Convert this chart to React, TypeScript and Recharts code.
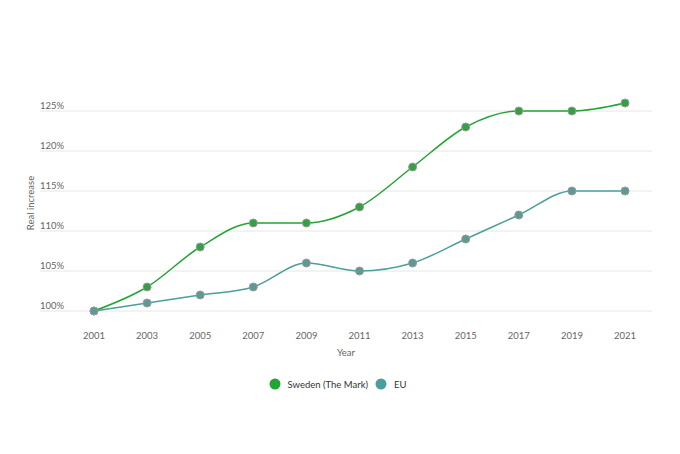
import React from "react";
import {
  LineChart,
  Line,
  XAxis,
  YAxis,
  CartesianGrid,
  Legend,
} from "recharts";

const years = [2001, 2003, 2005, 2007, 2009, 2011, 2013, 2015, 2017, 2019, 2021];
const sweden = [100, 103, 108, 111, 111, 113, 118, 123, 125, 125, 126];
const eu = [100, 101, 102, 103, 106, 105, 106, 109, 112, 115, 115];
const yTicks = [100, 105, 110, 115, 120, 125];
const yDomain = [100, 127];

const SWEDEN_COLOR = "#22a532";
const EU_COLOR = "#4a9f9b";

const data = years.map((year, i) => ({
  year,
  sweden: sweden[i],
  eu: eu[i],
}));

const FONT = "Lato, 'Open Sans', sans-serif";
const FS = 9.5;

const YTick = (props: any) => {
  const { y, payload } = props;
  return (
    <text x={40} y={y - 2} textAnchor="start" fontSize={FS} fill="#666" fontFamily={FONT}>
      {payload.value}%
    </text>
  );
};

const legendItems = [
  { label: "Sweden (The Mark)", color: SWEDEN_COLOR },
  { label: "EU", color: EU_COLOR },
];

const LegendContent = () => (
  <div
    style={{
      display: "flex",
      justifyContent: "center",
      alignItems: "center",
      fontFamily: FONT,
      fontSize: FS,
      color: "#333",
      paddingLeft: 2,
    }}
  >
    {legendItems.map((item) => (
      <div key={item.label} style={{ display: "flex", alignItems: "center", marginRight: 7 }}>
        <svg width={12} height={12} style={{ marginRight: 7 }}>
          <circle cx={6} cy={6} r={5.5} fill={item.color} />
        </svg>
        <span>{item.label}</span>
      </div>
    ))}
  </div>
);

// grid only at the tick values, not at the top edge of the plot
const gridRows = ({ offset }: any) =>
  yTicks.map(
    (t) =>
      offset.top +
      ((yDomain[1] - t) / (yDomain[1] - yDomain[0])) * offset.height
  );

export default function App() {
  return (
    <div style={{ position: "absolute", left: 0, top: 0, background: "#fff" }}>
      <LineChart
        width={680}
        height={454}
        data={data}
        margin={{ top: 95, right: 28, left: 0, bottom: 95 }}
      >
        <CartesianGrid
          horizontal
          vertical={false}
          stroke="#e6e6e6"
          horizontalCoordinatesGenerator={gridRows}
        />
        <XAxis
          dataKey="year"
          type="number"
          domain={[2001, 2021]}
          ticks={years}
          padding={{ left: 54, right: 27 }}
          axisLine={false}
          tickLine={false}
          tickMargin={15}
          height={48}
          tick={{ fontSize: FS, fill: "#666", fontFamily: FONT }}
          label={{
            value: "Year",
            position: "insideBottom",
            offset: 3,
            fontSize: FS,
            fill: "#666",
            fontFamily: FONT,
          }}
        />
        <YAxis
          width={40}
          domain={yDomain}
          ticks={yTicks}
          axisLine={false}
          tickLine={false}
          tick={<YTick />}
          label={{
            value: "Real increase",
            angle: -90,
            position: "insideLeft",
            offset: 31,
            style: { textAnchor: "middle" },
            fontSize: FS,
            fill: "#666",
            fontFamily: FONT,
          }}
        />
        <Legend
          verticalAlign="middle"
          align="center"
          layout="horizontal"
          wrapperStyle={{ top: 378, left: 0, width: 680 }}
          content={<LegendContent />}
        />
        <Line
          type="monotone"
          dataKey="sweden"
          name="Sweden (The Mark)"
          stroke={SWEDEN_COLOR}
          strokeWidth={1.5}
          dot={{ r: 4, fill: "#32a043", stroke: "#999", strokeWidth: 1 }}
          activeDot={false}
          isAnimationActive={false}
        />
        <Line
          type="monotone"
          dataKey="eu"
          name="EU"
          stroke={EU_COLOR}
          strokeWidth={1.5}
          dot={{ r: 4, fill: "#5e9a94", stroke: "#999", strokeWidth: 1 }}
          activeDot={false}
          isAnimationActive={false}
        />
      </LineChart>
    </div>
  );
}
